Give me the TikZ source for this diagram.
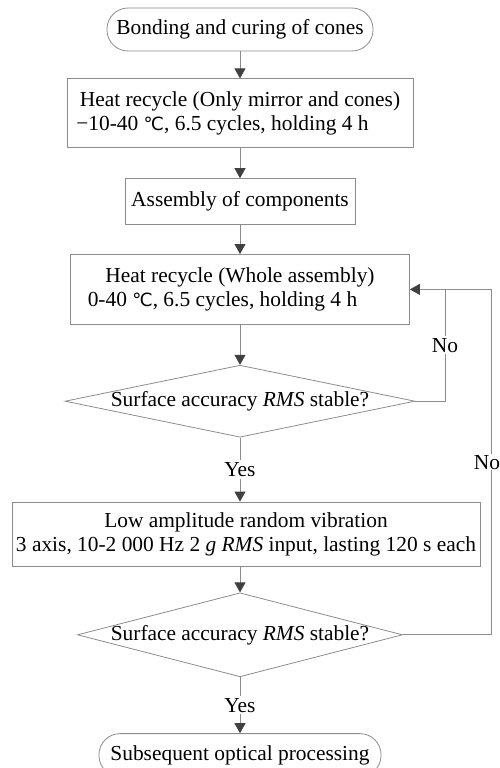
\documentclass[tikz,border=0pt]{standalone}
\usepackage{fontspec}
\setmainfont{Liberation Serif}
\newfontfamily\degfont[Scale=0.85]{DejaVu Sans}
\usetikzlibrary{arrows.meta, positioning, shapes.geometric, calc}
\colorlet{linecol}{black!45}
\colorlet{tipcol}{black!75}
\newcommand{\degC}{{\degfont ℃}}

\begin{document}
\begin{tikzpicture}[
    x=1pt, y=-1pt,
    node distance=27pt,
    font=\fontsize{21.4pt}{24pt}\selectfont,
    term/.style={draw=linecol, line width=0.8pt, rounded corners=21pt,
                 minimum height=43pt, inner sep=2pt},
    box/.style={draw=linecol, line width=0.8pt, align=center, inner sep=2pt},
    decision/.style={draw=linecol, line width=0.8pt, diamond, inner sep=-3pt},
    conn/.style={draw=linecol, line width=0.8pt},
    arrow/.style={conn, -{Triangle[length=10pt, width=11pt, color=tipcol]}},
    tag/.style={fill=white, inner sep=2pt}
  ]
  \useasboundingbox (0,0) rectangle (499,768);
  \node[term, minimum width=266pt] (bond) at (240,29.5) {Bonding and curing of cones};
  \node[box, minimum width=346pt, minimum height=69pt, below=27pt of bond] (cycle1)
    {Heat recycle (Only mirror and cones)\\−10-40 \degC, 6.5 cycles, holding 4 h\hspace*{35pt}};
  \node[box, minimum width=230pt, minimum height=46pt, below=30pt of cycle1] (assy)
    {Assembly of components};
  \node[box, minimum width=339pt, minimum height=70pt, below=29pt of assy] (cycle2)
    {Heat recycle (Whole assembly)\\0-40 \degC, 6.5 cycles, holding 4 h\hspace*{35pt}};
  \node[decision, aspect=4.86, minimum width=350pt, minimum height=72pt,
        below=40pt of cycle2] (check1) {Surface accuracy \textit{RMS} stable?};
  \node[box, minimum width=468pt, minimum height=64pt, below=64pt of check1, xshift=6pt] (vib)
    {Low amplitude random vibration\\3 axis, 10-2 000 Hz 2 \textit{g} \textit{RMS} input, lasting 120 s each};
  \node[decision, aspect=3.87, minimum width=325pt, minimum height=84pt,
        below=26pt of vib, xshift=-6pt] (check2) {Surface accuracy \textit{RMS} stable?};
  \node[term, minimum width=282pt, below=56pt of check2] (optic) {Subsequent optical processing};
  \coordinate[right=35pt of cycle2.east] (inner);
  \coordinate[right=81pt of cycle2.east] (outer);
  \draw[arrow] (bond) -- (cycle1);
  \draw[arrow] (cycle1) -- (assy);
  \draw[arrow] (assy) -- (cycle2);
  \draw[arrow] (cycle2) -- (check1);
  \draw[arrow] (check1.south) -- node[tag] {Yes} (check1.south |- vib.north);
  \draw[arrow] (check2.north |- vib.south) -- (check2.north);
  \draw[arrow] (check2) -- node[tag] {Yes} (optic);
  \draw[conn] (check1.east) -| node[tag, pos=0.75] {No} (inner);
  \draw[arrow] (check2.east) -| node[tag, pos=0.75, xshift=-4pt, inner sep=1pt] {No} (outer)
    -- (cycle2.east);
\end{tikzpicture}
\end{document}
